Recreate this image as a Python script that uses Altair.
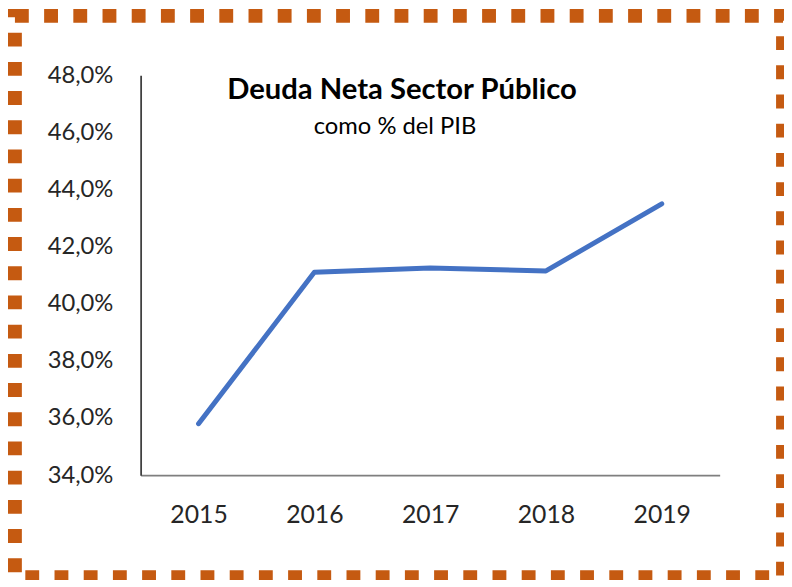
import altair as alt
import pandas as pd

years = ["2015", "2016", "2017", "2018", "2019"]
deuda = [35.8, 41.1, 41.25, 41.15, 43.5]
y_ticks = [34, 36, 38, 40, 42, 44, 46, 48]
title_text = "Deuda Neta Sector Público"
subtitle_text = "como % del PIB"

df = pd.DataFrame({"year": years, "value": deuda})

W, H = 585, 404
FONT = "Lato"

base = alt.Chart(df)

line = base.mark_line(color="#4472C4", strokeWidth=5, strokeCap="round", strokeJoin="round").encode(
    x=alt.X("year:O", title=None,
            axis=alt.Axis(labelAngle=0, ticks=False, labelPadding=28, labelFontSize=25,
                          labelColor="#262626", domainColor="#7f7f7f", domainWidth=2,
                          labelFont=FONT)),
    y=alt.Y("value:Q", title=None,
            scale=alt.Scale(domain=[34, 48], nice=False, zero=False),
            axis=alt.Axis(values=y_ticks, ticks=False, grid=False, labelPadding=28,
                          labelFontSize=24, labelColor="#262626", domainColor="#404040",
                          domainWidth=1.8, labelFont=FONT,
                          labelExpr="replace(format(datum.value, '.1f'), '.', ',') + '%'")),
)

border_df = pd.DataFrame({"k": [0]})
border = alt.Chart(border_df).mark_rect(
    fill="transparent", stroke="#C55A11", strokeWidth=14, strokeDash=[14, 15.5]
).encode(
    x=alt.value(-127), x2=alt.value(649), y=alt.value(-60), y2=alt.value(507)
)

title = alt.Chart(border_df).mark_text(
    text=title_text, font=FONT, fontSize=29.5, fontWeight="bold", color="#000000",
    align="center", baseline="alphabetic"
).encode(x=alt.value(264), y=alt.value(24))

subtitle = alt.Chart(border_df).mark_text(
    text=subtitle_text, font=FONT, fontSize=24, color="#000000",
    align="center", baseline="alphabetic"
).encode(x=alt.value(257), y=alt.value(59))

chart = alt.layer(border, line, title, subtitle).properties(
    width=W, height=H,
    autosize=alt.AutoSizeParams(type="none"),
    padding={"left": 134, "top": 65, "right": 65, "bottom": 103},
    background="white",
).configure_view(stroke=None)

chart.save("out.html", embed_options={"renderer": "svg", "actions": False})
